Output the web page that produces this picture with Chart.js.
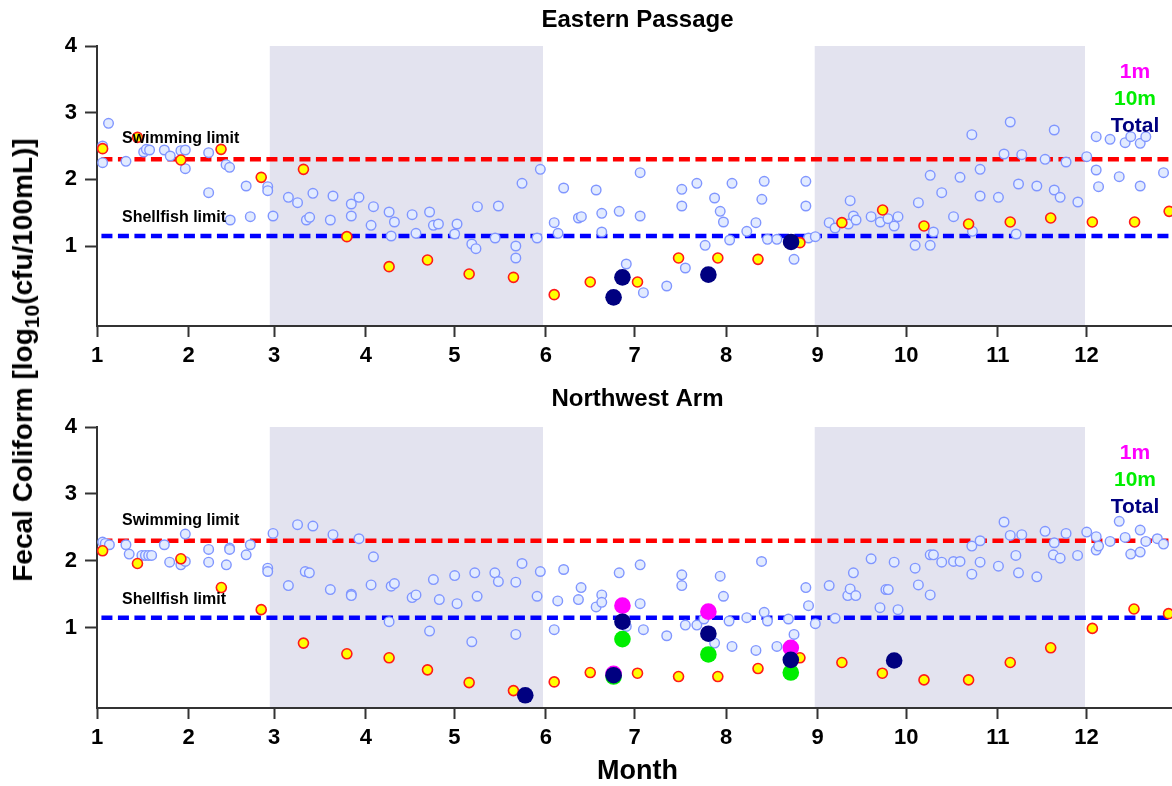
<!DOCTYPE html>
<html><head><meta charset="utf-8">
<script src="https://cdn.jsdelivr.net/npm/chart.js@4.4.0/dist/chart.umd.min.js"></script>
<style>
html,body{margin:0;padding:0;background:#fff;overflow:hidden;width:1172px;height:786px;position:relative;}
#c1{position:absolute;left:0;top:0;}
#c2{position:absolute;left:0;top:380px;}
#ytitle{position:absolute;left:23px;top:360px;transform:translate(-50%,-50%) rotate(-90deg);
  font:bold 28px "Liberation Sans", Arial, sans-serif;white-space:nowrap;color:#000;}
#ytitle sub{font-size:21px;vertical-align:-7px;line-height:0;}
</style>
</head><body>
<canvas id="c1" width="1190" height="380"></canvas>
<canvas id="c2" width="1190" height="406"></canvas>
<div id="ytitle">Fecal Coliform [log<sub>10</sub>(cfu/100mL)]</div>
<script>
// ---- axis / reference data ----
const monthLabels = ['1','2','3','4','5','6','7','8','9','10','11','12'];
const monthStartDay = [1,32,61,92,122,153,183,214,245,275,306,336];
const yTickValues = [1,2,3,4];
const seasonStart = [59.5, 244];
const seasonEnd = [152, 335.5];
const swimmingLimit = 2.3;   // log10(200)
const shellfishLimit = 1.15; // log10(14)
const legendLabels = ['1m','10m','Total'];

// ---- Eastern Passage ----
const epSampleDay = [2.9,2.9,4.9,10.8,16.8,17.7,18.8,23.8,25.8,29.4,
 30.9,30.9,38.8,38.8,44.7,45.9,46.1,51.5,52.9,58.8,
 58.8,60.6,65.8,68.9,71.9,73.0,74.1,80.0,80.9,87.1,
 87.1,89.7,93.8,94.6,99.9,100.6,101.7,107.7,109.0,113.6,
 114.9,116.6,122.1,122.9,127.9,129.3,129.8,135.8,136.9,142.8,
 142.8,144.9,150.0,151.1,155.8,157.1,159.0,164.0,165.0,170.0,
 171.9,171.9,177.8,180.2,184.9,184.9,186.0,193.9,199.0,199.0,
 200.2,204.1,206.9,210.1,212.0,213.1,215.2,216.0,221.0,224.1,
 226.1,226.9,228.0,231.2,237.0,241.0,241.0,241.9,244.2,248.9,
 250.9,255.4,256.0,257.1,258.0,263.1,266.2,268.8,270.9,272.2,
 278.0,283.1,279.1,283.1,284.2,287.0,291.0,293.2,297.2,297.4,
 300.0,300.0,306.2,308.1,310.2,312.2,313.0,314.1,319.2,322.0,
 325.1,325.1,327.1,329.1,333.1,336.1,339.3,339.3,340.1,344.0,
 347.1,349.1,351.0,354.2,356.1,354.2,362.1];
const epSampleVal = [2.25,2.50,2.84,2.27,2.41,2.45,2.44,2.44,2.35,2.43,
 2.44,2.16,2.40,1.80,2.22,2.18,1.39,1.90,1.44,1.89,
 1.83,1.45,1.73,1.65,1.39,1.43,1.79,1.39,1.75,1.63,
 1.45,1.73,1.31,1.59,1.51,1.15,1.36,1.47,1.19,1.51,
 1.31,1.33,1.18,1.33,1.03,0.96,1.59,1.12,1.60,1.00,
 0.82,1.94,1.12,2.15,1.35,1.19,1.87,1.42,1.44,1.84,
 1.49,1.21,1.52,0.73,2.10,1.45,0.30,0.40,1.85,1.60,
 0.67,1.94,1.01,1.72,1.52,1.36,1.09,1.94,1.22,1.35,
 1.70,1.97,1.10,1.10,0.80,1.97,1.60,1.12,1.14,1.35,
 1.27,1.33,1.68,1.45,1.39,1.44,1.36,1.41,1.30,1.44,
 1.01,1.01,1.65,2.06,1.21,1.80,1.44,2.03,2.67,1.22,
 2.15,1.75,1.73,2.38,2.86,1.18,1.93,2.37,1.90,2.30,
 2.74,1.84,1.73,2.26,1.66,2.34,2.64,2.14,1.89,2.60,
 2.04,2.55,2.64,2.54,2.64,1.90,2.10];
const epMarkedDay = [2.9,14.7,29.4,43.0,56.6,70.9,85.6,99.9,112.9,127.0,142.0,155.8,168.0,184.0,
 197.9,211.2,224.8,239.0,253.2,267.0,281.0,296.1,310.2,323.9,338.0,352.3,364.0];
const epMarkedVal = [2.46,2.63,2.29,2.45,2.03,2.15,1.14,0.69,0.79,0.58,0.53,0.27,0.46,0.46,
 0.82,0.82,0.80,1.05,1.35,1.54,1.30,1.33,1.36,1.42,1.36,1.36,1.52];
const ep1mDay = [], ep1mVal = [];
const ep10mDay = [], ep10mVal = [];
const epTotalDay = [175.9,178.9,208.0,236.0];
const epTotalVal = [0.23,0.53,0.57,1.06];

// ---- Northwest Arm ----
const nwSampleDay = [2.9,3.8,5.2,10.8,11.9,16.2,17.4,18.5,19.5,23.8,
 25.6,29.4,30.9,30.9,38.8,38.8,44.8,45.9,45.9,51.5,
 52.9,58.8,58.8,60.6,65.8,68.9,71.5,72.9,74.1,80.0,
 80.9,87.1,87.1,89.7,93.8,94.6,99.9,100.6,101.7,107.7,
 109.0,113.6,114.9,116.9,122.1,122.9,127.9,128.9,129.7,135.7,
 136.9,142.8,144.9,142.8,150.0,151.1,155.8,157.0,159.0,164.0,
 164.9,170.0,171.9,171.9,177.8,180.2,184.9,184.9,186.0,193.9,
 199.0,199.0,200.2,204.1,206.5,210.1,212.0,213.1,215.0,216.0,
 221.0,224.1,226.0,226.9,228.0,231.2,235.1,237.0,241.0,241.9,
 244.2,248.9,250.9,255.2,256.0,257.9,257.1,263.1,266.1,268.1,
 268.9,270.9,272.2,278.0,279.1,283.1,283.1,284.2,287.0,291.0,
 293.2,297.2,297.2,300.0,300.0,306.2,308.1,310.2,312.1,313.0,
 314.1,319.2,322.0,324.8,325.1,327.1,329.1,333.0,336.1,339.3,
 339.3,340.1,344.0,347.1,349.1,351.0,354.2,354.2,356.1,360.0,
 362.1];
const nwSampleVal = [2.28,2.26,2.24,2.24,2.10,2.08,2.08,2.08,2.08,2.24,
 1.98,1.94,1.99,2.40,2.17,1.98,1.94,2.19,2.17,2.09,
 2.24,1.89,1.84,2.41,1.63,2.54,1.84,1.82,2.52,1.57,
 2.39,1.50,1.48,2.33,1.64,2.06,1.09,1.62,1.66,1.45,
 1.49,0.95,1.72,1.42,1.78,1.36,0.79,1.82,1.47,1.82,
 1.69,1.68,1.96,0.90,1.47,1.84,0.97,1.40,1.87,1.42,
 1.60,1.31,1.49,1.38,1.82,1.02,1.94,1.36,0.97,0.88,
 1.79,1.63,1.04,1.04,1.13,0.77,1.77,1.47,1.10,0.72,
 1.15,0.66,1.99,1.23,1.10,0.72,1.13,0.90,1.60,1.33,
 1.06,1.63,1.14,1.48,1.58,1.48,1.82,2.03,1.30,1.57,
 1.57,1.98,1.27,1.89,1.64,1.49,2.09,2.09,1.98,1.99,
 1.99,2.22,1.80,2.30,1.98,1.92,2.58,2.38,2.08,1.82,
 2.39,1.76,2.44,2.09,2.27,2.04,2.41,2.08,2.43,2.36,
 2.16,2.22,2.29,2.59,2.35,2.10,2.46,2.13,2.29,2.33,
 2.25];
const nwMarkedDay = [2.9,14.7,29.4,43.1,56.6,70.9,85.6,99.9,112.9,127.0,142.0,155.8,168.0,184.0,
 197.9,211.2,224.8,239.0,253.2,266.9,281.0,296.1,310.2,323.9,338.0,352.1,363.8];
const nwMarkedVal = [2.15,1.96,2.03,1.60,1.27,0.77,0.61,0.55,0.37,0.18,0.06,0.19,0.33,0.32,
 0.27,0.27,0.39,0.55,0.48,0.32,0.22,0.22,0.48,0.70,0.99,1.28,1.21];
const nw1mDay = [175.9,178.9,208.0,235.9];
const nw1mVal = [0.31,1.33,1.24,0.70];
const nw10mDay = [175.9,178.9,208.0,235.9];
const nw10mVal = [0.27,0.83,0.60,0.33];
const nwTotalDay = [146.0,175.9,178.9,208.0,235.9,270.9];
const nwTotalVal = [-0.01,0.29,1.09,0.91,0.52,0.51];

// ---- rendering ----
const FONT = '"Liberation Sans", Arial, Helvetica, sans-serif';
const pts = (xs, ys) => xs.map((x, i) => ({x: x, y: ys[i]}));
const limitLine = (v) => [{x: 2.5, y: v}, {x: 367, y: v}];

const decor = {
  id: 'decor',
  beforeDraw(chart) {
    const {ctx, chartArea: ca, scales: {x}} = chart;
    ctx.save();
    ctx.fillStyle = 'rgb(227,227,239)';
    for (let i = 0; i < seasonStart.length; i++) {
      const x1 = x.getPixelForValue(seasonStart[i]);
      const x2 = x.getPixelForValue(seasonEnd[i]);
      ctx.fillRect(x1, ca.top, x2 - x1, ca.bottom - ca.top - 1);
    }
    ctx.restore();
  },
  afterDatasetsDraw(chart) {
    const {ctx, chartArea: ca, scales: {y}} = chart;
    ctx.save();
    ctx.fillStyle = '#000';
    ctx.textBaseline = 'middle';
    ctx.textAlign = 'left';
    ctx.font = 'bold 16px ' + FONT;
    ctx.fillText('Swimming limit', ca.left + 25, y.getPixelForValue(swimmingLimit) - 20.5);
    ctx.fillText('Shellfish limit', ca.left + 25, y.getPixelForValue(shellfishLimit) - 18);
    ctx.textAlign = 'center';
    ctx.font = 'bold 21px ' + FONT;
    const cols = ['#ff00ff', '#00ee00', '#000080'];
    const offs = [26.5, 53.5, 80.5];
    legendLabels.forEach((t, i) => {
      ctx.fillStyle = cols[i];
      ctx.fillText(t, 1135, ca.top + offs[i]);
    });
    ctx.restore();
  }
};

function makeChart(id, title, d, opts) {
  const datasets = [
    {type: 'scatter', data: pts(d.totalDay, d.totalVal), backgroundColor: '#000080', borderWidth: 0, pointRadius: 8.3},
    {type: 'scatter', data: pts(d.m1Day, d.m1Val), backgroundColor: '#ff00ff', borderWidth: 0, pointRadius: 8.3},
    {type: 'scatter', data: pts(d.m10Day, d.m10Val), backgroundColor: '#00ee00', borderWidth: 0, pointRadius: 8.3},
    {type: 'scatter', data: pts(d.markedDay, d.markedVal), backgroundColor: '#ffff00', borderColor: '#ff1a1a', borderWidth: 1.6, pointRadius: 5},
    {type: 'scatter', data: pts(d.sampleDay, d.sampleVal), backgroundColor: 'rgb(226,235,255)', borderColor: 'rgb(128,150,255)', borderWidth: 1.4, pointRadius: 4.8},
    {type: 'line', data: limitLine(swimmingLimit), borderColor: '#ff0000', borderWidth: 4.5, borderDash: [11, 5.5], pointRadius: 0, fill: false},
    {type: 'line', data: limitLine(shellfishLimit), borderColor: '#0000ff', borderWidth: 4.5, borderDash: [11, 5.5], pointRadius: 0, fill: false}
  ];
  return new Chart(document.getElementById(id), {
    data: {datasets},
    plugins: [decor],
    options: {
      responsive: false, animation: false, devicePixelRatio: 1,
      layout: {padding: {left: 0, right: 12, top: 0, bottom: 0}},
      plugins: {
        legend: {display: false}, tooltip: {enabled: false},
        title: {display: true, text: title, fullSize: false, color: '#000',
          font: {family: FONT, size: 24, weight: 'bold', lineHeight: 1.2},
          padding: opts.titlePad}
      },
      scales: {
        x: {
          type: 'linear', min: 1, max: 367,
          afterBuildTicks: s => { s.ticks = monthStartDay.map(v => ({value: v})); },
          afterFit: s => { s.height = opts.xHeight; },
          ticks: {callback: (v, i) => monthLabels[i], autoSkip: false, maxRotation: 0, padding: 6,
            color: '#000', font: {family: FONT, size: 22, weight: 'bold'}},
          grid: {display: true, drawOnChartArea: false, drawTicks: true, tickLength: 11, tickWidth: 2, tickColor: '#333'},
          border: {display: true, color: '#333', width: 2},
          title: opts.showMonth ? {display: true, text: 'Month', color: '#000',
            font: {family: FONT, size: 27, weight: 'bold', lineHeight: 1.0}, padding: {top: 0, bottom: 0.5}} : {display: false}
        },
        y: {
          type: 'linear', min: -0.2, max: 4,
          afterBuildTicks: s => { s.ticks = yTickValues.map(v => ({value: v})); },
          afterFit: s => { s.width = 97; },
          ticks: {padding: 8, color: '#000', font: {family: FONT, size: 22, weight: 'bold'}},
          grid: {display: true, drawOnChartArea: false, drawTicks: true, tickLength: 12, tickWidth: 2, tickColor: '#333'},
          border: {display: true, color: '#333', width: 2}
        }
      }
    }
  });
}

makeChart('c1', 'Eastern Passage', {
  sampleDay: epSampleDay, sampleVal: epSampleVal, markedDay: epMarkedDay, markedVal: epMarkedVal,
  m1Day: ep1mDay, m1Val: ep1mVal, m10Day: ep10mDay, m10Val: ep10mVal, totalDay: epTotalDay, totalVal: epTotalVal
}, {titlePad: {top: 5.6, bottom: 11.6}, xHeight: 54, showMonth: false});

makeChart('c2', 'Northwest Arm', {
  sampleDay: nwSampleDay, sampleVal: nwSampleVal, markedDay: nwMarkedDay, markedVal: nwMarkedVal,
  m1Day: nw1mDay, m1Val: nw1mVal, m10Day: nw10mDay, m10Val: nw10mVal, totalDay: nwTotalDay, totalVal: nwTotalVal
}, {titlePad: {top: 4.6, bottom: 13.6}, xHeight: 78, showMonth: true});
</script>
</body></html>
